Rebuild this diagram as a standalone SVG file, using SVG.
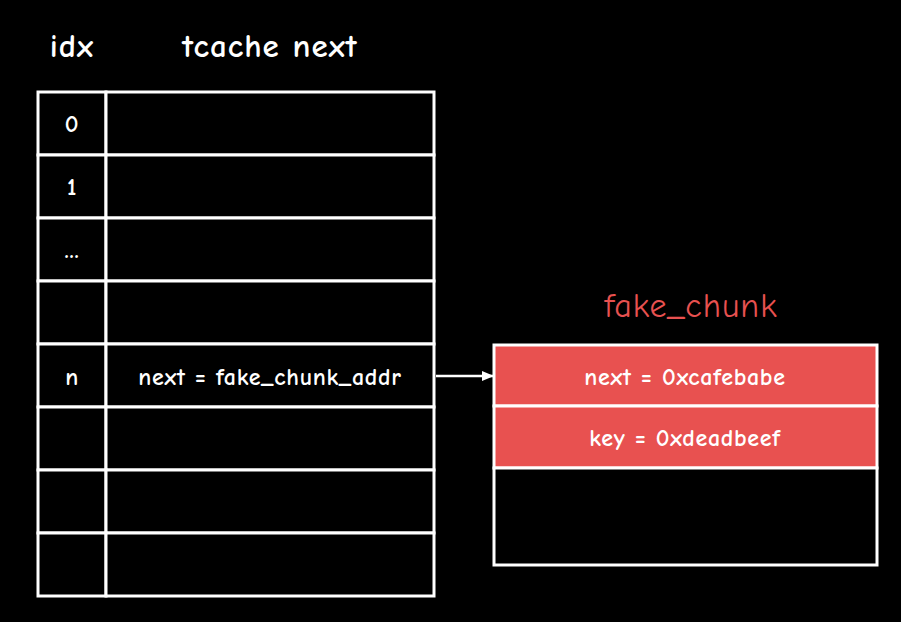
<svg xmlns="http://www.w3.org/2000/svg" width="901" height="622" viewBox="0 0 901 622">
<defs>
<style>
text{font-family:"Comic Sans MS","Comic Neue","Noto Sans",sans-serif;font-weight:bold;fill:#fff;text-anchor:middle;dominant-baseline:central}
.h{font-size:33px;letter-spacing:1px}
.t{font-size:24px;letter-spacing:0.7px}
.c{fill:#000;stroke:#fff;stroke-width:3}
.ci{fill:#000;stroke:#fff;stroke-width:3}
.r{fill:#e85150;stroke:#fff;stroke-width:3}
.rt{fill:#e85150;font-size:34px;font-weight:normal;letter-spacing:1px}
</style>
<marker id="ah" markerWidth="12" markerHeight="10" refX="11" refY="5" orient="auto" markerUnits="userSpaceOnUse">
<path d="M0,0 L12,5 L0,10 z" fill="#fff"/>
</marker>
</defs>
<rect width="901" height="622" fill="#000"/>
<g id="headers">
<text class="h" x="72" y="46">idx</text>
<text class="h" x="270" y="46">tcache next</text>
</g>
<g id="row0"><rect class="ci" x="38" y="92" width="68" height="63"/><rect class="c" x="106" y="92" width="328" height="63"/><text class="t" x="72" y="124">0</text></g>
<g id="row1"><rect class="ci" x="38" y="155" width="68" height="63"/><rect class="c" x="106" y="155" width="328" height="63"/><text class="t" x="72" y="187">1</text></g>
<g id="row2"><rect class="ci" x="38" y="218" width="68" height="63"/><rect class="c" x="106" y="218" width="328" height="63"/><text class="t" x="72" y="250">...</text></g>
<g id="row3"><rect class="ci" x="38" y="281" width="68" height="63"/><rect class="c" x="106" y="281" width="328" height="63"/></g>
<g id="rown"><rect class="ci" x="38" y="344" width="68" height="63"/><rect class="c" x="106" y="344" width="328" height="63"/><text class="t" x="72" y="377">n</text><text class="t" x="270" y="377">next = fake_chunk_addr</text></g>
<g id="row5"><rect class="ci" x="38" y="407" width="68" height="63"/><rect class="c" x="106" y="407" width="328" height="63"/></g>
<g id="row6"><rect class="ci" x="38" y="470" width="68" height="63"/><rect class="c" x="106" y="470" width="328" height="63"/></g>
<g id="row7"><rect class="ci" x="38" y="533" width="68" height="63"/><rect class="c" x="106" y="533" width="328" height="63"/></g>
<g id="fake_chunk">
<text class="rt" x="691" y="306">fake_chunk</text>
<rect class="r" x="494" y="345" width="383" height="61"/>
<text class="t" x="685" y="377">next = 0xcafebabe</text>
<rect class="r" x="494" y="406" width="383" height="62"/>
<text class="t" x="685" y="438">key = 0xdeadbeef</text>
<rect class="c" x="494" y="468" width="383" height="97"/>
</g>
<g id="connectors">
<line x1="436" y1="376" x2="493" y2="376" stroke="#fff" stroke-width="2.5" marker-end="url(#ah)"/>
</g>
</svg>
